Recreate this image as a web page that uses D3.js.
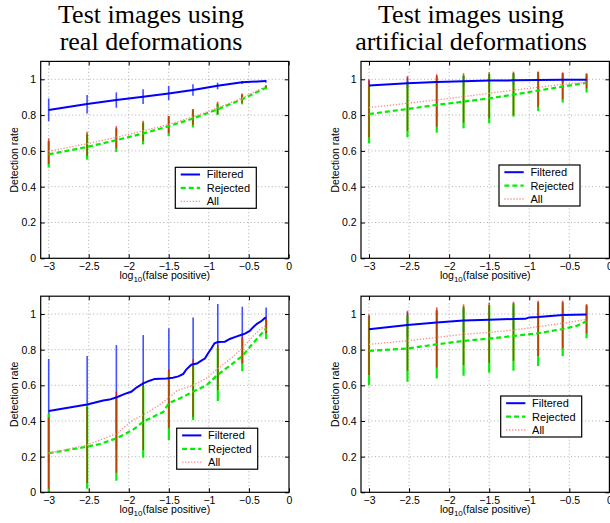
<!DOCTYPE html>
<html><head><meta charset="utf-8">
<script src="https://cdn.jsdelivr.net/npm/d3@7"></script>
<style>body{margin:0;background:#fff}svg{display:block}</style>
</head><body>
<svg id="chart" width="610" height="523"></svg>
<script>
// ---------- data ----------
const xTicks = [-3, -2.5, -2, -1.5, -1, -0.5, 0];
const yTicks = [0, 0.2, 0.4, 0.6, 0.8, 1];
const seriesNames = ["Filtered", "Rejected", "All"];
const titlesLeft = ["Test images using", "real deformations"];
const titlesRight = ["Test images using", "artificial deformations"];
const barX = [-3, -2.52, -2.155, -1.82, -1.5, -1.197, -0.889, -0.583, -0.285];

// top-left: real deformations (panel 1)
const tlFiltY  = [0.828, 0.862, 0.884, 0.903, 0.921, 0.94, 0.964, 0.983, 0.99];
const tlFiltLo = [0.766, 0.809, 0.841, 0.862, 0.884, 0.908, 0.944, 0.974, 0.981];
const tlFiltHi = [0.893, 0.912, 0.927, 0.944, 0.963, 0.972, 0.981, 0.99, 0.996];
const tlRejY   = [0.581, 0.622, 0.66, 0.697, 0.738, 0.781, 0.832, 0.888, 0.953];
const tlRejLo  = [0.507, 0.551, 0.594, 0.636, 0.682, 0.731, 0.80, 0.86, 0.944];
const tlRejHi  = [0.655, 0.693, 0.726, 0.758, 0.794, 0.831, 0.864, 0.916, 0.962];
const tlAllY   = [0.598, 0.64, 0.676, 0.712, 0.748, 0.79, 0.84, 0.895, 0.96];
const tlAllLo  = [0.527, 0.573, 0.614, 0.656, 0.70, 0.746, 0.805, 0.869, 0.952];
const tlAllHi  = [0.669, 0.707, 0.738, 0.768, 0.796, 0.834, 0.875, 0.921, 0.968];

// top-right: artificial deformations (panel 2)
const trFiltY  = [0.966, 0.978, 0.985, 0.989, 0.993, 0.994, 0.996, 0.998, 0.998];
const trFiltLo = [0.93, 0.95, 0.96, 0.96, 0.97, 0.97, 0.97, 0.98, 0.98];
const trFiltHi = [0.995, 1.01, 1.02, 1.02, 1.03, 1.03, 1.03, 1.03, 1.02];
const trRejY   = [0.806, 0.834, 0.857, 0.875, 0.894, 0.914, 0.937, 0.959, 0.981];
const trRejLo  = [0.642, 0.676, 0.702, 0.726, 0.754, 0.791, 0.823, 0.87, 0.926];
const trRejHi  = [0.97, 0.99, 1.01, 1.02, 1.03, 1.035, 1.04, 1.035, 1.03];
const trAllY   = [0.842, 0.866, 0.885, 0.903, 0.922, 0.94, 0.955, 0.972, 0.983];
const trAllLo  = [0.676, 0.711, 0.736, 0.758, 0.782, 0.80, 0.847, 0.888, 0.95];
const trAllHi  = [1.0, 1.019, 1.028, 1.034, 1.039, 1.043, 1.043, 1.039, 1.034];

// bottom-left: real deformations (panel 3)
const blFiltX  = [-3, -2.52, -2.32, -2.24, -2.15, -2.05, -1.97, -1.90, -1.82, -1.74, -1.675, -1.53, -1.45, -1.38, -1.32, -1.28, -1.22, -1.15, -1.09, -1.05, -1.01, -0.97, -0.93, -0.89, -0.80, -0.74, -0.66, -0.60, -0.55, -0.49, -0.45, -0.40, -0.34, -0.30, -0.285];
const blFiltY  = [0.456, 0.492, 0.515, 0.52, 0.533, 0.552, 0.564, 0.589, 0.611, 0.626, 0.636, 0.638, 0.643, 0.65, 0.664, 0.69, 0.716, 0.722, 0.74, 0.75, 0.78, 0.807, 0.836, 0.843, 0.845, 0.86, 0.873, 0.882, 0.89, 0.905, 0.925, 0.945, 0.962, 0.978, 0.98];
const blFiltLo = [0.164, 0.219, 0.24, 0.34, 0.366, 0.46, 0.63, 0.723, 0.923];
const blFiltHi = [0.748, 0.765, 0.826, 0.882, 0.92, 0.981, 1.056, 1.041, 1.037];
const blRejX   = [-3, -2.52, -2.36, -2.15, -1.95, -1.82, -1.65, -1.57, -1.5, -1.36, -1.2, -1.03, -0.9, -0.74, -0.58, -0.45, -0.32, -0.285];
const blRejY   = [0.219, 0.256, 0.271, 0.303, 0.35, 0.396, 0.434, 0.45, 0.5, 0.527, 0.564, 0.6, 0.655, 0.71, 0.765, 0.836, 0.9, 0.92];
const blRejLo  = [0.0, 0.02, 0.065, 0.194, 0.293, 0.405, 0.512, 0.68, 0.86];
const blRejHi  = [0.44, 0.49, 0.541, 0.596, 0.68, 0.723, 0.81, 0.86, 0.97];
const blAllX   = [-3, -2.52, -2.15, -1.95, -1.82, -1.65, -1.5, -1.4, -1.2, -1.03, -0.9, -0.7, -0.58, -0.45, -0.36, -0.285];
const blAllY   = [0.219, 0.265, 0.33, 0.405, 0.434, 0.48, 0.53, 0.57, 0.6, 0.64, 0.69, 0.76, 0.81, 0.875, 0.915, 0.935];
const blAllLo  = [0.02, 0.052, 0.11, 0.237, 0.359, 0.424, 0.574, 0.723, 0.892];
const blAllHi  = [0.42, 0.48, 0.564, 0.62, 0.69, 0.746, 0.826, 0.873, 0.976];

// bottom-right: artificial deformations (panel 4)
const brFiltX  = [-3, -2.52, -2.155, -1.82, -1.5, -1.197, -1.05, -1.0, -0.889, -0.583, -0.285];
const brFiltY  = [0.914, 0.938, 0.953, 0.963, 0.968, 0.972, 0.973, 0.981, 0.983, 0.994, 0.998];
const brFiltLo = [0.84, 0.87, 0.89, 0.9, 0.9, 0.91, 0.93, 0.95, 0.96];
const brFiltHi = [0.99, 1.01, 1.02, 1.03, 1.04, 1.04, 1.04, 1.04, 1.04];
const brRejX   = [-3, -2.52, -2.155, -1.82, -1.5, -1.197, -0.889, -0.583, -0.4, -0.285];
const brRejY   = [0.793, 0.807, 0.83, 0.849, 0.862, 0.877, 0.892, 0.916, 0.935, 0.96];
const brRejLo  = [0.602, 0.62, 0.639, 0.654, 0.671, 0.682, 0.708, 0.764, 0.864];
const brRejHi  = [0.984, 0.994, 1.02, 1.04, 1.05, 1.06, 1.065, 1.065, 1.05];
const brAllY   = [0.83, 0.85, 0.869, 0.886, 0.897, 0.91, 0.929, 0.948, 0.97];
const brAllLo  = [0.658, 0.682, 0.70, 0.714, 0.727, 0.738, 0.764, 0.807, 0.892];
const brAllHi  = [0.998, 1.019, 1.037, 1.054, 1.064, 1.069, 1.075, 1.075, 1.056];

// ---------- build panels ----------
const panelData = [
  {filt:[barX, tlFiltY], rej:[barX, tlRejY], all:[barX, tlAllY],
   filtErr:[tlFiltLo, tlFiltHi], rejErr:[tlRejLo, tlRejHi], allErr:[tlAllLo, tlAllHi]},
  {filt:[barX, trFiltY], rej:[barX, trRejY], all:[barX, trAllY],
   filtErr:[trFiltLo, trFiltHi], rejErr:[trRejLo, trRejHi], allErr:[trAllLo, trAllHi]},
  {filt:[blFiltX, blFiltY], rej:[blRejX, blRejY], all:[blAllX, blAllY],
   filtErr:[blFiltLo, blFiltHi], rejErr:[blRejLo, blRejHi], allErr:[blAllLo, blAllHi]},
  {filt:[brFiltX, brFiltY], rej:[brRejX, brRejY], all:[barX, brAllY],
   filtErr:[brFiltLo, brFiltHi], rejErr:[brRejLo, brRejHi], allErr:[brAllLo, brAllHi]},
];
const layout = [
  {left:40.7, right:288.7, top:61.4, bottom:258.3, lx:134.6, ly:105.9},
  {left:361,  right:609.4, top:61.4, bottom:258.3, lx:138,   ly:103.6},
  {left:40.7, right:289,   top:296.2, bottom:492.3, lx:136,  ly:132},
  {left:361,  right:609.4, top:296.2, bottom:492.3, lx:139.7, ly:99.8},
];

const svg = d3.select("#chart");
const SANS = "'Liberation Sans', Arial, Helvetica, sans-serif";
const SERIF = "'Liberation Serif', 'Times New Roman', serif";
const fmt = v => String(v).replace("-", "\u2212");

const colors = {filt:"#0000ff", rej:"#00ee00", all:"#ff0000", allLine:"#ff8a8a"};

// titles
[[titlesLeft, 151], [titlesRight, 471]].forEach(([lines, cx]) => {
  lines.forEach((t, i) => {
    svg.append("text").attr("x", cx).attr("y", 23 + i * 27)
      .attr("text-anchor", "middle").attr("font-family", SERIF)
      .attr("font-size", 26).attr("fill", "#000").text(t);
  });
});

panelData.forEach((pd, i) => {
  const L = layout[i];
  const x = d3.scaleLinear().domain([-3.1, 0]).range([L.left, L.right]);
  const y = d3.scaleLinear().domain([0, 1.1]).range([L.bottom, L.top]);
  const g = svg.append("g");

  // grid
  g.append("g").selectAll("line").data(xTicks.slice(0, -1)).join("line")
    .attr("x1", d => x(d)).attr("x2", d => x(d)).attr("y1", L.top).attr("y2", L.bottom)
    .attr("stroke", "#9a9a9a").attr("stroke-width", 0.8).attr("stroke-dasharray", "1,2.5");
  g.append("g").selectAll("line").data(yTicks.slice(1)).join("line")
    .attr("y1", d => y(d)).attr("y2", d => y(d)).attr("x1", L.left).attr("x2", L.right)
    .attr("stroke", "#9a9a9a").attr("stroke-width", 0.8).attr("stroke-dasharray", "1,2.5");

  // axes with inward ticks
  const ax = d3.axisBottom(x).tickValues(xTicks).tickSize(-4).tickPadding(4).tickFormat(fmt);
  const axT = d3.axisTop(x).tickValues(xTicks).tickSize(-4).tickFormat("");
  const ay = d3.axisLeft(y).tickValues(yTicks).tickSize(-4).tickPadding(4.5).tickFormat(fmt);
  const ayR = d3.axisRight(y).tickValues(yTicks).tickSize(-4).tickFormat("");
  const styleAxis = sel => {
    sel.select(".domain").remove();
    sel.selectAll(".tick line").attr("stroke", "#000");
    sel.selectAll("text").attr("font-family", SANS).attr("font-size", 10.5).attr("fill", "#000");
  };
  g.append("g").attr("transform", `translate(0,${L.bottom})`).call(ax).call(styleAxis);
  g.append("g").attr("transform", `translate(0,${L.top})`).call(axT).call(styleAxis);
  g.append("g").attr("transform", `translate(${L.left},0)`).call(ay).call(styleAxis);
  g.append("g").attr("transform", `translate(${L.right},0)`).call(ayR).call(styleAxis);

  // error bars: filtered, rejected, all
  const bars = (err, color, width, op) => {
    g.append("g").selectAll("line").data(barX).join("line")
      .attr("x1", d => x(d)).attr("x2", d => x(d))
      .attr("y1", (d, k) => y(err[0][k])).attr("y2", (d, k) => y(err[1][k]))
      .attr("stroke", color).attr("stroke-width", width).attr("stroke-opacity", op);
  };
  bars(pd.filtErr, "#2233ff", 1.6, 0.85);
  bars(pd.rejErr, colors.rej, 2.2, 1);
  bars(pd.allErr, colors.all, 1.6, 0.72);

  // lines
  const line = d3.line().x(d => x(d[0])).y(d => y(d[1]));
  const pts = s => s[0].map((v, k) => [v, s[1][k]]);
  g.append("path").datum(pts(pd.filt)).attr("d", line).attr("fill", "none")
    .attr("stroke", colors.filt).attr("stroke-width", 2);
  g.append("path").datum(pts(pd.rej)).attr("d", line).attr("fill", "none")
    .attr("stroke", colors.rej).attr("stroke-width", 2.2).attr("stroke-dasharray", "5,3");
  g.append("path").datum(pts(pd.all)).attr("d", line).attr("fill", "none")
    .attr("stroke", colors.allLine).attr("stroke-width", 1.3).attr("stroke-dasharray", "1.3,1.7");

  // box
  g.append("rect").attr("x", L.left).attr("y", L.top)
    .attr("width", L.right - L.left).attr("height", L.bottom - L.top)
    .attr("fill", "none").attr("stroke", "#000").attr("stroke-width", 1.2);

  // axis labels
  const xl = g.append("text").attr("x", (L.left + L.right) / 2).attr("y", L.bottom + 20.7)
    .attr("text-anchor", "middle").attr("font-family", SANS).attr("font-size", 10.5).attr("fill", "#000");
  xl.append("tspan").text("log");
  xl.append("tspan").attr("dy", 3).attr("font-size", 8).text("10");
  xl.append("tspan").attr("dy", -3).text("(false positive)");
  g.append("text")
    .attr("transform", `translate(${L.left - 22.5},${(L.top + L.bottom) / 2}) rotate(-90)`)
    .attr("text-anchor", "middle").attr("font-family", SANS).attr("font-size", 10.5)
    .attr("fill", "#000").text("Detection rate");

  // legend
  const lgx = L.left + L.lx, lgy = L.top + L.ly;
  const lg = g.append("g").attr("transform", `translate(${lgx},${lgy})`);
  lg.append("rect").attr("width", 81).attr("height", 41).attr("fill", "#fff")
    .attr("stroke", "#000").attr("stroke-width", 1.2);
  const lstyles = [
    {c: colors.filt, w: 2, dash: null},
    {c: colors.rej, w: 2.2, dash: "5,3"},
    {c: colors.allLine, w: 1.3, dash: "1.3,1.7"}];
  seriesNames.forEach((name, k) => {
    const cy = 7.2 + k * 13.4;
    lg.append("line").attr("x1", 5.4).attr("x2", 24.7).attr("y1", cy).attr("y2", cy)
      .attr("stroke", lstyles[k].c).attr("stroke-width", lstyles[k].w)
      .attr("stroke-dasharray", lstyles[k].dash);
    lg.append("text").attr("x", 31.4).attr("y", cy + 4).attr("font-family", SANS)
      .attr("font-size", 11).attr("fill", "#000").text(name);
  });
});
</script>
</body></html>
